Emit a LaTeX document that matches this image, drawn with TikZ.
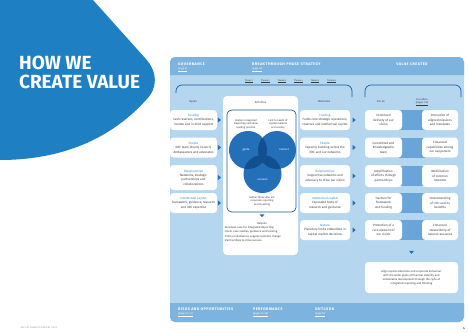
\documentclass[tikz,border=0pt]{standalone}
\usepackage{fontspec}
\setmainfont{Fira Sans}
\newfontfamily\titlefont{Fira Sans}
\newfontfamily\capsfont[LetterSpace=12]{Fira Sans}
\usetikzlibrary{shapes.geometric,positioning}

\definecolor{iircblue}{HTML}{1E7FC2}
\definecolor{panelblue}{HTML}{B5D6EF}
\definecolor{bandblue}{HTML}{7DB3DF}
\definecolor{linkblue}{HTML}{6AA5D9}
\definecolor{darkblue}{HTML}{1B5C9E}
\definecolor{vennblue}{HTML}{2370B8}
\definecolor{venndark}{HTML}{124F8F}
\definecolor{titleblue}{HTML}{2F8ACB}
\definecolor{bodygrey}{HTML}{3A3A3A}
\definecolor{footgrey}{HTML}{8A8A8A}

\newcommand\boxfont{\fontsize{6.2}{8.8}\selectfont}
\newcommand\labfont{\fontsize{5.5}{7}\selectfont}
\newcommand\headfont{\capsfont\bfseries\fontsize{7.5}{9}\selectfont}
\newcommand\pagefont{\fontsize{5}{6}\selectfont}
\newcommand\btitle[1]{\textcolor{titleblue}{#1}\\}

\begin{document}
\begin{tikzpicture}[x=2pt, y=-2pt,
    inbox/.style={rectangle, rounded corners=7pt, fill=white, minimum width=94pt, minimum height=40pt, align=center, font=\boxfont, text=bodygrey, inner sep=1pt},
    outbox/.style={inbox, minimum width=100pt},
    usbox/.style={inbox, minimum width=74pt},
    othbox/.style={inbox, minimum width=72pt},
    tipmark/.style={isosceles triangle, isosceles triangle apex angle=80, fill=vennblue, inner sep=0pt, minimum size=6pt},
    venn/.style={circle, fill=vennblue, minimum size=76pt, inner sep=0pt},
    vennlabel/.style={font=\labfont, text=white},
    collabel/.style={font=\labfont, text=bodygrey, align=center},
    hdr/.style={font=\headfont, text=white, inner sep=0pt, anchor=west},
    hdrpage/.style={font=\pagefont, text=white, inner sep=0pt, anchor=west},
    bracket/.style={draw=darkblue, line width=1.4pt, rounded corners=12pt}
    ]

\useasboundingbox (0,0) rectangle (468,332);
\fill[white] (0,0) rectangle (468,332);

% title shape
\fill[iircblue] (0,0) -- (93,0) -- (145,58) .. controls (158,72) and (158,88) .. (146,100)
    .. controls (110,140) and (60,160) .. (0,160) -- cycle;
\node[anchor=north west, inner sep=0pt, align=left, text=white,
      font=\titlefont\bfseries\fontsize{38}{38}\selectfont] (title) at (19,56) {HOW WE\\CREATE VALUE};

% panel
\fill[panelblue, rounded corners=10pt] (170,57) rectangle (464,322);
\fill[bandblue] (170,75) [rounded corners=10pt] -- (170,57) -- (464,57) [sharp corners] -- (464,75) -- cycle;
\fill[bandblue] (170,303) [rounded corners=10pt] -- (170,322) -- (464,322) [sharp corners] -- (464,303) -- cycle;

% header
\node[hdr] (gov) at (178,64) {GOVERNANCE};
\node[hdrpage] (govp) at (178,69.5) {\underline{(page 5)}};
\node[hdr] (strat) at (252,64) {BREAKTHROUGH PHASE STRATEGY};
\node[hdrpage] (stratp) at (252,69.5) {\underline{(page 12)}};
\node[hdr, anchor=center] (valcr) at (412,64) {VALUE CREATED};

% themes
\foreach \i in {1,...,6}
    \node[font=\fontsize{4.5}{5}\selectfont, text=bodygrey, inner sep=0pt] (theme\i) at (232.5+16.5*\i,81) {\underline{Theme \i}};

% brackets
\draw[bracket] (176,93) |- (352,85) -- (352,97);
\draw[bracket] (365,97) |- (461,85) -- (461,97);

% activities tab
\fill[white, rounded corners=8pt] (223,96) rectangle (298,255);

% column labels
\node[collabel] (hinputs) at (193,102) {Inputs};
\node[collabel] (hact) at (260.5,102) {Activities};
\node[collabel] (hout) at (324,102) {Outcomes};
\node[collabel] (hus) at (381,102) {For us};
\node[collabel, font=\fontsize{5}{6}\selectfont] (hoth) at (422,102) {For others\\\underline{(pages 7--9)}};

% inputs
\node[inbox] (in1) at (193.5,120) {\btitle{Funding}Cash reserves, contributions,\\income and in-kind support};
\node[inbox] (in2) at (193.5,147.5) {\btitle{People}IIRC team, Board, Council,\\Ambassadors and advocates};
\node[inbox, minimum height=50pt] (in3) at (193.5,177.5) {\btitle{Relationships}Networks, strategic\\partnerships and\\collaborations};
\node[inbox] (in4) at (193.5,203) {\btitle{Intellectual capital}Framework, guidance, research\\and IIRC expertise};
\foreach \n in {1,...,4}
    \node[tipmark, right=1.5pt of in\n] (tin\n) {};

% activities
\draw[darkblue, line width=1.4pt, rounded corners=9pt] (227,110) rectangle (296,212);
\node[venn] (guide) at (248,150) {};
\node[venn] (connect) at (277,150) {};
\node[venn] (convene) at (262.5,174) {};
\begin{scope}
    \clip (guide.center) circle[radius=19];
    \fill[venndark] (connect.center) circle[radius=19];
    \fill[venndark] (convene.center) circle[radius=19];
\end{scope}
\begin{scope}
    \clip (connect.center) circle[radius=19];
    \fill[venndark] (convene.center) circle[radius=19];
\end{scope}
\node[vennlabel] (lguide) at (246,150) {guide};
\node[vennlabel] (lconnect) at (284,150) {connect};
\node[vennlabel] (lconvene) at (262.5,180) {convene};
\node[collabel, font=\fontsize{5.2}{7}\selectfont] (explain) at (246,124) {Explain Integrated\\Reporting and show\\leading practice};
\node[collabel, font=\fontsize{5.2}{7}\selectfont] (link) at (278,124) {Link to needs of\\capital markets\\and society};
\node[collabel, font=\fontsize{5.2}{7}\selectfont] (gather) at (262,201) {Gather those who are\\corporate reporting\\and investing};
\node[tipmark, shape border rotate=-90] (tact) at (262,215.5) {};
\node[collabel] (outputs) at (262,224) {Outputs};
\node[anchor=north west, align=left, font=\fontsize{5.5}{8.4}\selectfont, text=bodygrey, inner sep=0pt] (outlist) at (224.5,226.5)
    {•Business case for Integrated Reporting\\•Tools, case studies, guidance and training\\•Policy initiatives to support systemic change\\•Partnerships to drive success};

% outcomes
\node[outbox] (out1) at (325,120) {\btitle{Funding}Funds core strategic operations,\\reserves and intellectual capital};
\node[outbox] (out2) at (325,147.5) {\btitle{People}Capacity building across the\\IIRC and our networks};
\node[outbox, minimum height=44pt] (out3) at (325,176) {\btitle{Relationships}Supportive networks and\\advocacy to drive our vision};
\node[outbox] (out4) at (325,203) {\btitle{Intellectual capital}Expanded body of\\research and guidance};
\node[outbox] (out5) at (325,230) {\btitle{Nature}Planetary limits embedded in\\capital market decisions};
\foreach \n in {1,...,5}
    \node[tipmark, right=5pt of out\n] (tout\n) {};

% value created
\foreach \y in {120,147.5,176,203,230}
    \fill[linkblue] (383,\y-10) rectangle (440,\y+10);
\node[usbox] (us1) at (383.5,120) {Continued\\delivery of our\\vision};
\node[usbox] (us2) at (383.5,147.5) {Committed and\\knowledgeable\\team};
\node[usbox, minimum height=44pt] (us3) at (383.5,176) {Amplification\\of efforts through\\partnerships};
\node[usbox] (us4) at (383.5,203) {Traction for\\framework\\and funding};
\node[usbox] (us5) at (383.5,230) {Promotion of a\\core element of\\our vision};
\node[othbox] (oth1) at (440,120) {Promotion of\\aligned missions\\and mandates};
\node[othbox] (oth2) at (440,147.5) {Enhanced\\capabilities among\\our supporters};
\node[othbox, minimum height=44pt] (oth3) at (440,176) {Mobilisation\\of common\\interests};
\node[othbox] (oth4) at (440,203) {Understanding\\of <IR> and its\\benefits};
\node[othbox] (oth5) at (440,230) {Enhanced\\stewardship of\\natural resources};
\node[tipmark, shape border rotate=-90] (tval) at (411.5,252) {};
\node[inbox, minimum width=186pt, minimum height=62pt, font=\fontsize{5.5}{8}\selectfont] (align) at (411.5,277.5)
    {Align capital allocation and corporate behaviour\\with the wider goals of financial stability and\\sustainable development through the cycle of\\integrated reporting and thinking};

% footer
\node[hdr] (risks) at (178,309) {RISKS AND OPPORTUNITIES};
\node[hdrpage] (risksp) at (178,314.5) {\underline{(pages 10--11)}};
\node[hdr] (perf) at (253,309) {PERFORMANCE};
\node[hdrpage] (perfp) at (253,314.5) {\underline{(pages 16--19)}};
\node[hdr] (outl) at (315,309) {OUTLOOK};
\node[hdrpage] (outlp) at (315,314.5) {\underline{(page 20)}};
\node[anchor=west, inner sep=0pt, text=footgrey, font=\capsfont\fontsize{4.5}{5}\selectfont] (report) at (20,328) {IIRC INTEGRATED REPORT 2018};
\node[anchor=east, inner sep=0pt, text=bodygrey, font=\bfseries\fontsize{6}{7}\selectfont] (pageno) at (465,328) {4};
\end{tikzpicture}
\end{document}
